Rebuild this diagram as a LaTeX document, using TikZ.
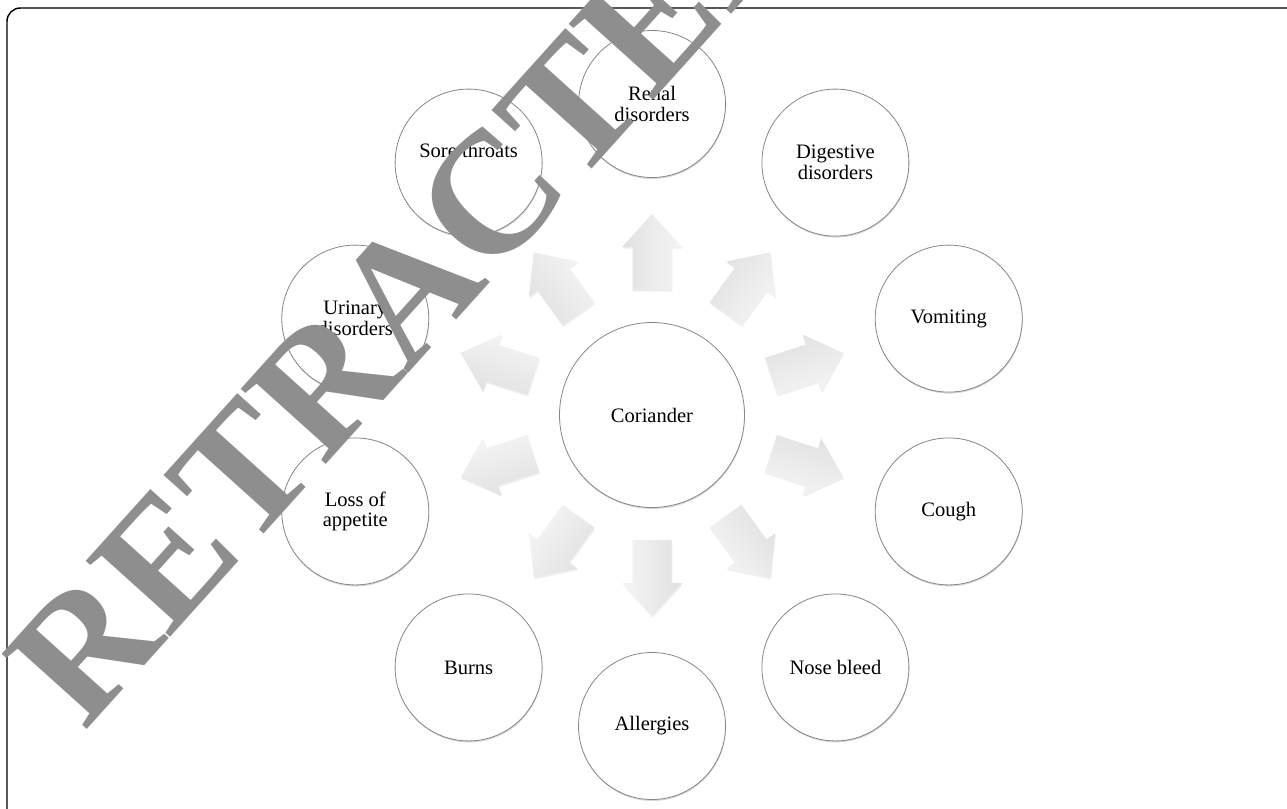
\documentclass[tikz,border=0pt]{standalone}
\usepackage{fontspec}
\setmainfont{Liberation Serif}
\usetikzlibrary{calc,shadows}
\definecolor{wmgray}{RGB}{142,142,142}
\definecolor{circline}{RGB}{135,135,135}
\definecolor{arrtail}{RGB}{225,225,225}
\definecolor{arrtip}{RGB}{245,245,245}
\begin{document}
\begin{tikzpicture}[x=0.75pt,y=0.75pt,
  bub/.style={circle, draw=circline, line width=0.6pt, fill=white,
    minimum size=110.25pt, inner sep=0pt, align=center,
    font=\fontsize{15.4}{15.6}\selectfont,
    drop shadow={shadow xshift=0.3pt, shadow yshift=-1.1pt, opacity=0.35, fill=black!45}},
  core/.style={bub, minimum size=138.75pt},
  blockarrow/.style={left color=arrtail, right color=arrtip,
    drop shadow={shadow xshift=0.6pt, shadow yshift=-1.2pt, opacity=0.15, fill=black!40}},
  frame/.style={line width=1.1pt, rounded corners=10pt},
  wmark/.style={text=wmgray, font=\fontsize{130}{130}\selectfont\bfseries, inner sep=0pt}
]
\useasboundingbox (0,0) rectangle (1287,-808);
\clip (0,0) rectangle (1287,-808);
\fill[white] (0,0) rectangle (1287,-808);
\draw[frame] (7,-820) -- (7,-8) -- (1300,-8);

\coordinate (O) at (652,-415);
% block arrows from the centre outwards
\foreach \a in {90,54,18,-18,-54,-90,-126,-162,162,126}{
  \begin{scope}[shift={(O)}, rotate=\a]
    \path[blockarrow, shading angle=\a] (125,-19.5) -- (168,-19.5) -- (168,-30) -- (201,0)
      -- (168,30) -- (168,19.5) -- (125,19.5) -- cycle;
  \end{scope}
}
\node[core] (cor) at (O) {Coriander};
\node[bub] (renal) at ($(O)+(90:311)$) {Renal\\disorders};
\node[bub] (dig) at ($(O)+(54:312)$) {Digestive\\disorders};
\node[bub] (vom) at ($(O)+(18:312)$) {Vomiting};
\node[bub] (cough) at ($(O)+(-18:312)$) {Cough};
\node[bub] (nose) at ($(O)+(-54:312)$) {Nose bleed};
\node[bub] (allerg) at ($(O)+(-90:311)$) {Allergies};
\node[bub] (burns) at ($(O)+(-126:312)$) {Burns};
\node[bub] (loss) at ($(O)+(-162:312)$) {Loss of\\appetite};
\node[bub] (uri) at ($(O)+(162:312)$) {Urinary\\disorders};
\node[bub] (sore) at ($(O)+(126:312)$) {Sore throats\\[3pt]\mbox{}};

\node[wmark, rotate=48] (wm) at (407,-290) {RETRACTED};
\end{tikzpicture}
\end{document}
